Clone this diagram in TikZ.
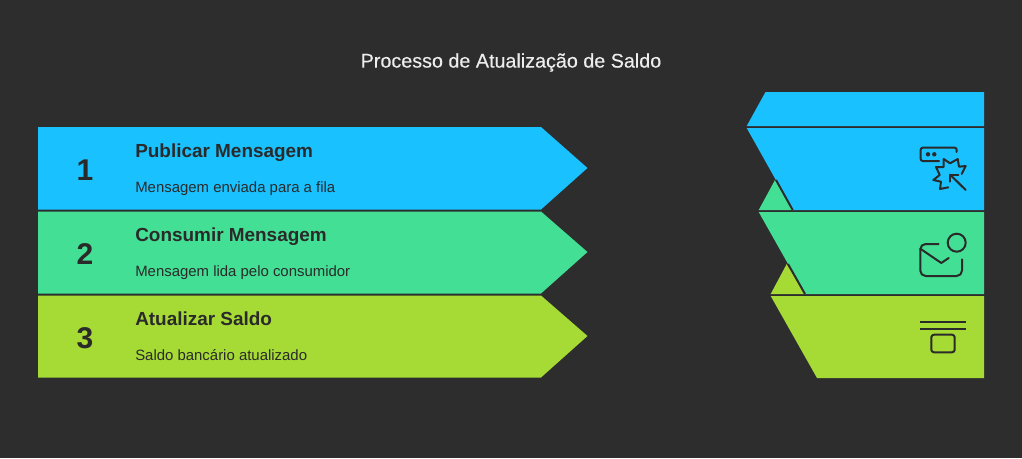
\documentclass[tikz,border=0pt]{standalone}
\usepackage{xcolor}
\usepackage{fontspec}
\setmainfont{Liberation Sans}
\newfontfamily\titlefont[FakeBold=0.25]{Liberation Sans}
\usetikzlibrary{positioning}
\definecolor{bgdark}{HTML}{2D2D2D}
\definecolor{inkdark}{HTML}{2A2A2A}
\definecolor{titlelight}{HTML}{EDEDED}
\definecolor{stepblue}{HTML}{1AC1FF}
\definecolor{stepgreen}{HTML}{43DF95}
\definecolor{steplime}{HTML}{A6DB35}

\begin{document}
\begin{tikzpicture}[
    x=0.75pt, y=-0.75pt,
    chart title/.style={text=titlelight, font=\titlefont\fontsize{14.8}{17}\selectfont, inner sep=0pt},
    step number/.style={text=inkdark, font=\fontsize{22.5}{26}\selectfont\bfseries, inner sep=0pt},
    step title/.style={anchor=base west, text=inkdark, font=\fontsize{14.2}{17}\selectfont\bfseries, inner sep=0pt},
    step text/.style={anchor=base west, text=inkdark, font=\fontsize{11.2}{13}\selectfont, inner sep=0pt},
    icon line/.style={draw=inkdark, line width=1.5pt, line cap=round, line join=round},
    cut line/.style={draw=bgdark, line width=1.5pt}
]
    % Background
    \fill[bgdark] (0,0) rectangle (1022,458);
    \node[chart title] (charttitle) at (511,62.5) {Processo de Atualização de Saldo};

    % Left arrows
    \fill[stepblue] (38,127) -- (541,127) -- (587.5,168) -- (541,209.5) -- (38,209.5) -- cycle;
    \fill[stepgreen] (38,211.5) -- (541,211.5) -- (587.5,252) -- (541,293.5) -- (38,293.5) -- cycle;
    \fill[steplime] (38,295.5) -- (541,295.5) -- (587.5,336) -- (541,377.5) -- (38,377.5) -- cycle;

    \node[step number] (num1) at (85,170) {1};
    \node[step number] (num2) at (85,254) {2};
    \node[step number] (num3) at (85,338) {3};

    \node[step title] (title1) at (135,157.5) {Publicar Mensagem};
    \node[step title] (title2) at (135,241.5) {Consumir Mensagem};
    \node[step title] (title3) at (135,325.5) {Atualizar Saldo};

    \node[step text] (text1) at (135,192) {Mensagem enviada para a fila};
    \node[step text] (text2) at (135,276) {Mensagem lida pelo consumidor};
    \node[step text] (text3) at (135,360) {Saldo bancário atualizado};

    % Right side funnel
    \fill[stepblue] (765.5,92) -- (984,92) -- (984,126) -- (746.7,126) -- cycle;
    \fill[stepgreen] (775,180) -- (758.7,210) -- (793,210) -- cycle;
    \fill[steplime] (786.7,264) -- (770.7,294) -- (805,294) -- cycle;
    \fill[stepblue] (746.7,128) -- (984,128) -- (984,210) -- (792.7,210) -- cycle;
    \fill[stepgreen] (758.7,212) -- (984,212) -- (984,294) -- (805,294) -- cycle;
    \fill[steplime] (770.7,296) -- (984,296) -- (984,378) -- (817,378) -- cycle;
    \draw[cut line] (776,180) -- (792.7,210);
    \draw[cut line] (788,264) -- (805,294);

    % Icon 1
    \draw[icon line, rounded corners=1.5pt] (956.7,152) -- (956.7,147.7) -- (920.7,147.7) -- (920.7,161) -- (939,161);
    \fill[inkdark] (928,154.3) circle (2.2);
    \fill[inkdark] (934.3,154.3) circle (2.2);
    \draw[icon line] (961.7,174) -- (965.7,166) -- (959,166.7) -- (957.7,159) -- (950,163.3) -- (943.7,159) -- (943.7,167) -- (936,167) -- (939.7,175) -- (933.3,180) -- (941,181.7) -- (940,189) -- (948.3,187.3);
    \draw[icon line] (965.7,190) -- (950,174.5);
    \draw[icon line] (950,181.7) -- (950,174.5) -- (958.3,174.5);

    % Icon 2
    \draw[icon line] (956.7,242.7) circle (9);
    \draw[icon line, rounded corners=4pt] (938.7,244) -- (920.3,244) -- (920.3,276) -- (962,276) -- (962,259.3);
    \draw[icon line] (920.3,248.7) -- (941.3,263) -- (948.7,258);

    % Icon 3
    \draw[icon line, line cap=butt] (920,322) -- (966,322);
    \draw[icon line, line cap=butt] (920,328.7) -- (966,328.7);
    \draw[icon line, rounded corners=2pt] (931.3,334.7) rectangle (954.7,352.3);
\end{tikzpicture}
\end{document}
